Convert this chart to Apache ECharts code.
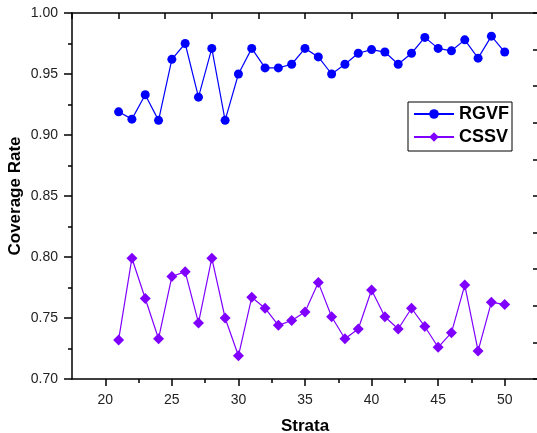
<!DOCTYPE html>
<html><head><meta charset="utf-8">
<script src="https://cdn.jsdelivr.net/npm/echarts@6/dist/echarts.min.js"></script>
<style>html,body{margin:0;padding:0;background:#fff}#c{width:537px;height:433px}</style>
</head><body><div id="c"></div>
<script>
const strata = [21,22,23,24,25,26,27,28,29,30,31,32,33,34,35,36,37,38,39,40,41,42,43,44,45,46,47,48,49,50];
const rgvf = [0.919,0.913,0.933,0.912,0.962,0.975,0.931,0.971,0.912,0.950,0.971,0.955,0.955,0.958,0.971,0.964,0.950,0.958,0.967,0.970,0.968,0.958,0.967,0.980,0.971,0.969,0.978,0.963,0.981,0.968];
const cssv = [0.732,0.799,0.766,0.733,0.784,0.788,0.746,0.799,0.750,0.719,0.767,0.758,0.744,0.748,0.755,0.779,0.751,0.733,0.741,0.773,0.751,0.741,0.758,0.743,0.726,0.738,0.777,0.723,0.763,0.761];
const xTicks = [20,25,30,35,40,45,50];
const xMinorTicks = [22.5,27.5,32.5,37.5,42.5,47.5];
const yTicks = [0.70,0.75,0.80,0.85,0.90,0.95,1.00];

const FONT = 'Liberation Sans, Arial, sans-serif';
const black = {color:'#000', width:1.5};
const chart = echarts.init(document.getElementById('c'), null, {renderer:'canvas'});
chart.setOption({
  animation:false,
  backgroundColor:'#fff',
  grid:{left:72, top:13, width:466, height:366, containLabel:false, outerBoundsMode:'none'},
  legend:{
    orient:'vertical', left:408, top:102,
    itemWidth:40, itemHeight:12, itemGap:5,
    padding:[3,3,5,5], borderColor:'#000', borderWidth:1,
    textStyle:{fontSize:18, fontWeight:'bold', color:'#000', fontFamily:FONT},
    data:['RGVF','CSSV']
  },
  xAxis:[
    {type:'value', position:'bottom', min:17.5, max:52.5,
     axisLine:{show:true, onZero:false, lineStyle:black},
     axisTick:{show:true, length:7, customValues:xTicks, lineStyle:black},
     axisLabel:{show:true, customValues:xTicks, margin:14, fontSize:14, color:'#222', fontFamily:FONT},
     splitLine:{show:false},
     name:'Strata', nameLocation:'middle', nameGap:39, nameMoveOverlap:false,
     nameTextStyle:{fontSize:17, fontWeight:'bold', color:'#000', fontFamily:FONT}},
    {type:'value', position:'bottom', min:17.5, max:52.5,
     axisLine:{show:false, onZero:false},
     axisTick:{show:true, length:4, customValues:xMinorTicks, lineStyle:black},
     axisLabel:{show:false}, splitLine:{show:false}},
    {type:'value', position:'top', min:0, max:10, interval:1,
     axisLine:{show:true, onZero:false, lineStyle:black},
     axisTick:{show:true, inside:true, length:6, lineStyle:black},
     axisLabel:{show:false}, splitLine:{show:false}}
  ],
  yAxis:[
    {type:'value', position:'left', min:0.70, max:1.00, interval:0.05,
     axisLine:{show:true, onZero:false, lineStyle:black},
     axisTick:{show:true, length:8, lineStyle:black},
     minorTick:{show:true, splitNumber:2, length:4, lineStyle:black},
     axisLabel:{show:true, margin:14, fontSize:14, color:'#222', fontFamily:FONT,
       formatter:v=>v.toFixed(2)},
     splitLine:{show:false}, minorSplitLine:{show:false},
     name:'Coverage Rate', nameLocation:'middle', nameGap:48, nameMoveOverlap:false,
     nameTextStyle:{fontSize:17, fontWeight:'bold', color:'#000', fontFamily:FONT}},
    {type:'value', position:'right', min:0, max:10, interval:1,
     axisLine:{show:true, onZero:false, lineStyle:black},
     axisTick:{show:true, inside:true, length:5, lineStyle:black},
     axisLabel:{show:false}, splitLine:{show:false}}
  ],
  series:[
    {type:'line', name:'RGVF', xAxisIndex:0, yAxisIndex:0,
     data:strata.map((s,i)=>[s,rgvf[i]]),
     symbol:'circle', symbolSize:9, showAllSymbol:true,
     itemStyle:{color:'#0000ff'}, lineStyle:{color:'#0000ff', width:1.2}},
    {type:'line', name:'CSSV', xAxisIndex:0, yAxisIndex:0,
     data:strata.map((s,i)=>[s,cssv[i]]),
     symbol:'diamond', symbolSize:11, showAllSymbol:true,
     itemStyle:{color:'#8000ff'}, lineStyle:{color:'#8000ff', width:1.2}}
  ]
});
</script></body></html>
